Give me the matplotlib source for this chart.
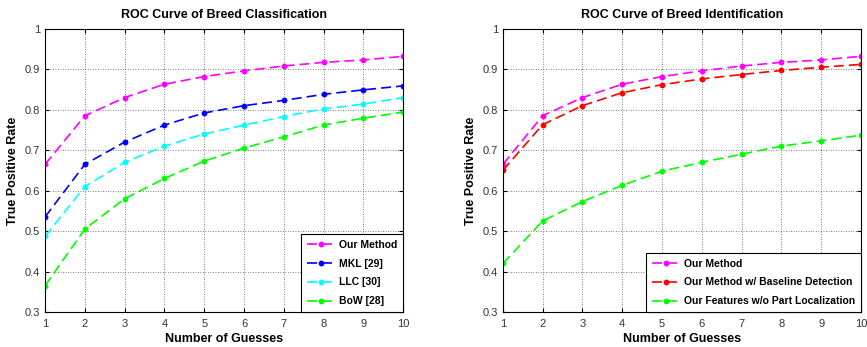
import numpy as np
import matplotlib
matplotlib.use("Agg")
import matplotlib.pyplot as plt

plt.rcParams["font.family"] = ["Liberation Sans", "DejaVu Sans"]

guesses = np.arange(1, 11)

# left panel: breed classification
our_method = [0.665, 0.785, 0.830, 0.863, 0.882, 0.896, 0.908, 0.917, 0.923, 0.932]
mkl = [0.535, 0.665, 0.720, 0.762, 0.792, 0.810, 0.823, 0.838, 0.849, 0.859]
llc = [0.487, 0.610, 0.670, 0.710, 0.740, 0.762, 0.783, 0.802, 0.814, 0.830]
bow = [0.365, 0.505, 0.580, 0.630, 0.673, 0.705, 0.733, 0.762, 0.779, 0.794]

# right panel: breed identification
baseline_det = [0.650, 0.763, 0.810, 0.842, 0.862, 0.876, 0.887, 0.897, 0.905, 0.912]
no_part_loc = [0.420, 0.525, 0.573, 0.613, 0.648, 0.670, 0.690, 0.710, 0.723, 0.737]

left_series = [
    ("Our Method", our_method, "#ff00ff"),
    ("MKL [29]", mkl, "#0000ff"),
    ("LLC [30]", llc, "#00ffff"),
    ("BoW [28]", bow, "#00ff00"),
]
right_series = [
    ("Our Method", our_method, "#ff00ff"),
    ("Our Method w/ Baseline Detection", baseline_det, "#ff0000"),
    ("Our Features w/o Part Localization", no_part_loc, "#00ff00"),
]


def draw_panel(ax, series, title):
    for label, vals, color in series:
        ax.plot(guesses, vals, linestyle=(0, (6, 3)), color=color, linewidth=1.2,
                marker="o", markersize=3.2, label=label)
    ax.set_xlim(1, 10)
    ax.set_ylim(0.3, 1.0)
    ax.set_xticks(guesses)
    ax.set_yticks(np.arange(0.3, 1.01, 0.1))
    ax.set_yticklabels(["0.3", "0.4", "0.5", "0.6", "0.7", "0.8", "0.9", "1"])
    ax.grid(True, linestyle=(0, (1, 2)), color="#555555", linewidth=0.6)
    ax.tick_params(direction="in", labelsize=8, length=3, top=True, right=True,
                   colors="black", labelcolor="#333333")
    ax.tick_params(axis="x", pad=5)
    for sp in ax.spines.values():
        sp.set_linewidth(0.8)
    ax.set_title(title, fontsize=9, fontweight="bold", pad=8)
    ax.set_xlabel("Number of Guesses", fontsize=9, fontweight="bold", labelpad=3)
    ax.set_ylabel("True Positive Rate", fontsize=9, fontweight="bold")
    leg = ax.legend(loc="lower right", fancybox=False, edgecolor="black",
                    prop={"weight": "bold", "size": 7.5}, handlelength=2.8,
                    labelspacing=0.85, borderaxespad=0.0, borderpad=0.55,
                    handletextpad=0.3, framealpha=1)
    leg.get_frame().set_linewidth(0.8)


fig = plt.figure(figsize=(8.67, 3.47), dpi=100)
ax1 = fig.add_axes([0.052, 0.101, 0.413, 0.816])
ax2 = fig.add_axes([0.580, 0.101, 0.413, 0.816])
draw_panel(ax1, left_series, "ROC Curve of Breed Classification")
draw_panel(ax2, right_series, "ROC Curve of Breed Identification")

fig.savefig("out.png", dpi=100)
